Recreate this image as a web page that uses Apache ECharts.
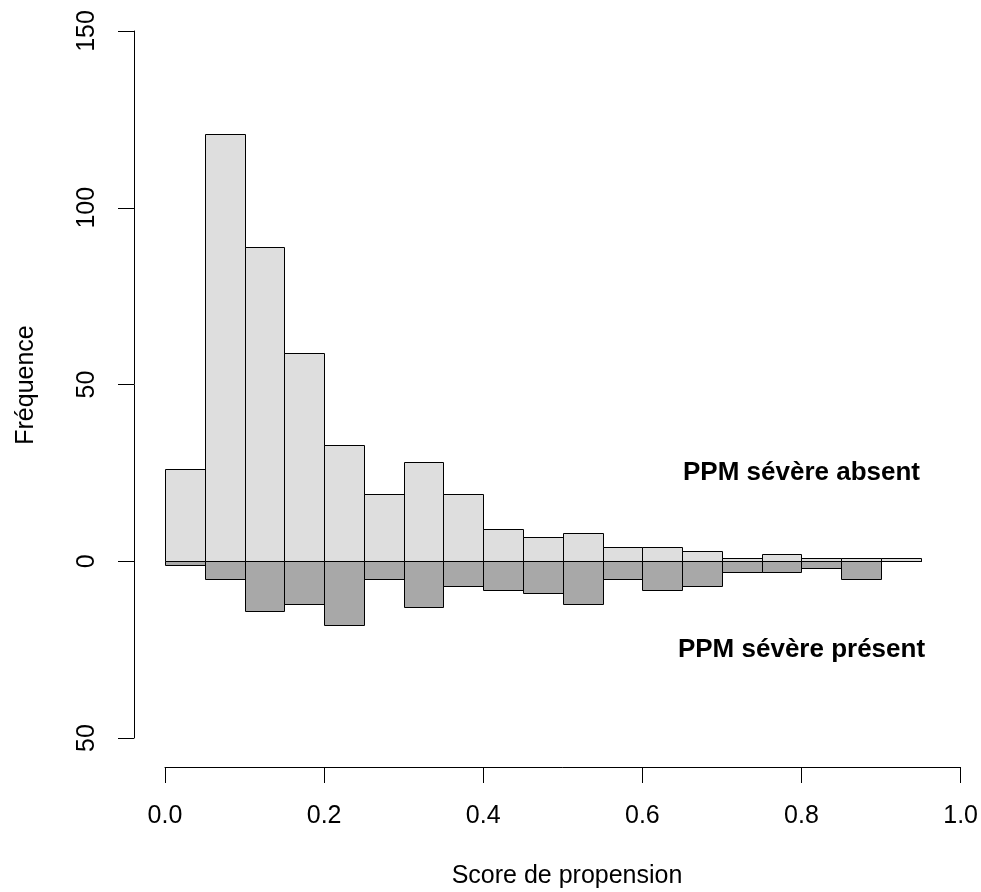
<!DOCTYPE html>
<html>
<head>
<meta charset="utf-8">
<script src="https://cdn.jsdelivr.net/npm/echarts@6/dist/echarts.min.js"></script>
<style>
  html, body { margin: 0; padding: 0; background: #ffffff; }
  #chart { width: 981px; height: 892px; }
</style>
</head>
<body>
<div id="chart"></div>
<script>
// Histogram bin edges (propensity score), 19 bins of width 0.05
const binEdges = [0.00, 0.05, 0.10, 0.15, 0.20, 0.25, 0.30, 0.35, 0.40, 0.45,
                  0.50, 0.55, 0.60, 0.65, 0.70, 0.75, 0.80, 0.85, 0.90, 0.95];
// Counts per bin, drawn upward (absent) and downward (present)
const countAbsent  = [26, 121, 89, 59, 33, 19, 28, 19, 9, 7, 8, 4, 4, 3, 1, 2, 1, 1, 1];
const countPresent = [1, 5, 14, 12, 18, 5, 13, 7, 8, 9, 12, 5, 8, 7, 3, 3, 2, 5, 0];
// Axis ticks
const xTicks = [0.0, 0.2, 0.4, 0.6, 0.8, 1.0];
const yTicks = [-50, 0, 50, 100, 150];
// Group annotations placed in data space
const groupNames = ['PPM sévère absent', 'PPM sévère présent'];
const groupX = [0.8, 0.8];
const groupY = [25, -25];

const FONT = '"Liberation Sans", Arial, Helvetica, sans-serif';

const absentData = countAbsent.map((c, i) => [binEdges[i], binEdges[i + 1], c]);
const presentData = countPresent.map((c, i) => [binEdges[i], binEdges[i + 1], -c]);
const labelData = groupNames.map((n, i) => [groupX[i], groupY[i], n]);

function histItem(fill) {
  return function (params, api) {
    const x0 = api.value(0), x1 = api.value(1), h = api.value(2);
    const pTop = api.coord([x0, h]);
    const pBase = api.coord([x1, 0]);
    const left = Math.round(pTop[0]) + 0.5;
    const right = Math.round(pBase[0]) + 0.5;
    const y0 = Math.round(Math.min(pTop[1], pBase[1])) + 0.5;
    const y1 = Math.round(Math.max(pTop[1], pBase[1])) + 0.5;
    return {
      type: 'rect',
      shape: { x: left, y: y0, width: right - left, height: y1 - y0 },
      style: { fill: fill, stroke: '#000000', lineWidth: 1 }
    };
  };
}

function labelItem(params, api) {
  const p = api.coord([api.value(0), api.value(1)]);
  return {
    type: 'text',
    x: p[0], y: p[1],
    style: {
      text: labelData[params.dataIndex][2],
      fill: '#000000',
      font: 'bold 26px ' + FONT,
      textAlign: 'center', textVerticalAlign: 'middle'
    }
  };
}

const chart = echarts.init(document.getElementById('chart'), null, { renderer: 'canvas' });

chart.setOption({
  animation: false,
  backgroundColor: '#ffffff',
  grid: { left: 165, right: 20, top: 31, bottom: 154, containLabel: false },
  xAxis: {
    type: 'value',
    min: 0, max: 1, interval: 0.2,
    offset: 29,
    splitLine: { show: false },
    axisLine: { show: true, onZero: false, lineStyle: { color: '#000000', width: 1 } },
    axisTick: { show: true, length: 16, lineStyle: { color: '#000000', width: 1 } },
    axisLabel: {
      color: '#000000', fontFamily: FONT, fontSize: 25, margin: 37,
      formatter: v => (xTicks.includes(+v.toFixed(1)) ? v.toFixed(1) : '')
    }
  },
  yAxis: {
    type: 'value',
    min: yTicks[0], max: yTicks[yTicks.length - 1], interval: 50,
    offset: 31,
    splitLine: { show: false },
    axisLine: { show: true, onZero: false, lineStyle: { color: '#000000', width: 1 } },
    axisTick: { show: true, length: 16, lineStyle: { color: '#000000', width: 1 } },
    axisLabel: {
      color: '#000000', fontFamily: FONT, fontSize: 25, margin: 34, rotate: 90,
      formatter: v => String(Math.abs(v))
    }
  },
  graphic: [
    {
      type: 'text',
      x: 567, y: 876,
      style: { text: 'Score de propension', fill: '#000000', font: '25px ' + FONT,
               textAlign: 'center', textVerticalAlign: 'middle' }
    },
    {
      type: 'text',
      x: 26, y: 385, rotation: Math.PI / 2,
      style: { text: 'Fréquence', fill: '#000000', font: '25px ' + FONT,
               textAlign: 'center', textVerticalAlign: 'middle' }
    }
  ],
  series: [
    {
      type: 'custom', name: 'absent',
      renderItem: histItem('#dedede'),
      encode: { x: [0, 1], y: 2 },
      data: absentData, z: 2
    },
    {
      type: 'custom', name: 'present',
      renderItem: histItem('#a8a8a8'),
      encode: { x: [0, 1], y: 2 },
      data: presentData, z: 3
    },
    {
      type: 'custom', name: 'groups',
      renderItem: labelItem,
      encode: { x: 0, y: 1 },
      data: labelData, z: 5, silent: true
    }
  ]
});
</script>
</body>
</html>
